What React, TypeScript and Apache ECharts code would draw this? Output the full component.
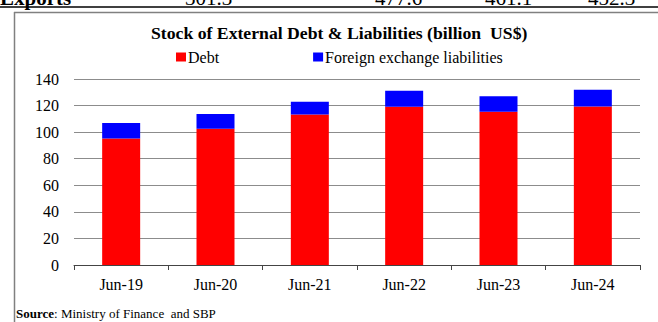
import React, { useEffect, useRef } from "react";
import * as echarts from "echarts";

const categories = ["Jun-19", "Jun-20", "Jun-21", "Jun-22", "Jun-23", "Jun-24"];
const debt = [95.2, 102.5, 113.3, 119.1, 115.3, 119.3];
const fxLiabilities = [11.6, 11.1, 9.5, 12.0, 11.8, 12.6];
const yTicks = { min: 0, max: 140, interval: 20 };
const topRowLabels = ["Exports", "301.3", "477.6", "461.1", "452.3"];

const FONT = "'Liberation Serif', 'Times New Roman', serif";

export default function App() {
  const ref = useRef<HTMLDivElement>(null);
  useEffect(() => {
    if (!ref.current) return;
    const chart = echarts.init(ref.current, undefined, { renderer: "svg" });
    const topXs = [0, 185, 375, 485, 588];
    chart.setOption({
      animation: false,
      backgroundColor: "#ffffff",
      title: {
        text: "Stock of External Debt & Liabilities (billion  US$)",
        left: 151,
        top: 23,
        padding: 0,
        textStyle: { fontFamily: FONT, fontSize: 17.7, fontWeight: "bold", color: "#000", lineHeight: 20 },
      },
      legend: {
        data: ["Debt", "Foreign exchange liabilities"],
        left: 176,
        top: 49,
        padding: 0,
        itemGap: 94,
        itemWidth: 10,
        itemHeight: 9,
        icon: "rect",
        textStyle: { fontFamily: FONT, fontSize: 16, color: "#000", padding: [0, 0, 0, -3] },
      },
      grid: { left: 74, right: 18, top: 79, bottom: 57, containLabel: false },
      xAxis: {
        type: "category",
        data: categories,
        axisLine: { lineStyle: { color: "#444", width: 1 } },
        axisTick: { show: true, length: 5, lineStyle: { color: "#444" } },
        axisLabel: { fontFamily: FONT, fontSize: 16, color: "#000", margin: 11 },
      },
      yAxis: {
        type: "value",
        min: yTicks.min,
        max: yTicks.max,
        interval: yTicks.interval,
        axisLine: { show: false },
        axisTick: { show: false },
        axisLabel: { fontFamily: FONT, fontSize: 16, color: "#000", margin: 15 },
        splitLine: { lineStyle: { color: "#8c8c8c", width: 1 } },
      },
      series: [
        {
          name: "Debt",
          type: "bar",
          stack: "total",
          barWidth: 38,
          data: debt,
          itemStyle: { color: "#ff0000" },
        },
        {
          name: "Foreign exchange liabilities",
          type: "bar",
          stack: "total",
          barWidth: 38,
          data: fxLiabilities,
          itemStyle: { color: "#0000ff" },
        },
      ],
      graphic: [
        { type: "line", shape: { x1: 0, y1: 7, x2: 658, y2: 7 }, style: { stroke: "#000", lineWidth: 1.5 } },
        { type: "line", shape: { x1: 14, y1: 12.5, x2: 658, y2: 12.5 }, style: { stroke: "#808080", lineWidth: 1.5 } },
        { type: "line", shape: { x1: 14.5, y1: 12, x2: 14.5, y2: 322 }, style: { stroke: "#808080", lineWidth: 1.5 } },
        ...topRowLabels.map((t, i) => ({
          type: "text",
          x: topXs[i],
          y: 8,
          style: {
            text: t,
            fontFamily: FONT,
            fontSize: 21,
            fontWeight: i === 0 ? "bold" : "normal",
            fill: "#000",
            verticalAlign: "bottom",
          },
        })),
        {
          type: "text",
          x: 16,
          y: 313,
          style: {
            text: "{b|Source}: Ministry of Finance  and SBP",
            fontFamily: FONT,
            fontSize: 13,
            fill: "#000",
            verticalAlign: "middle",
            rich: {
              b: { fontFamily: FONT, fontSize: 13, fontWeight: "bold", fill: "#000" },
            },
          },
        },
      ],
    });
    return () => chart.dispose();
  }, []);
  return <div ref={ref} style={{ position: "absolute", left: 0, top: 0, width: 658, height: 322 }} />;
}
